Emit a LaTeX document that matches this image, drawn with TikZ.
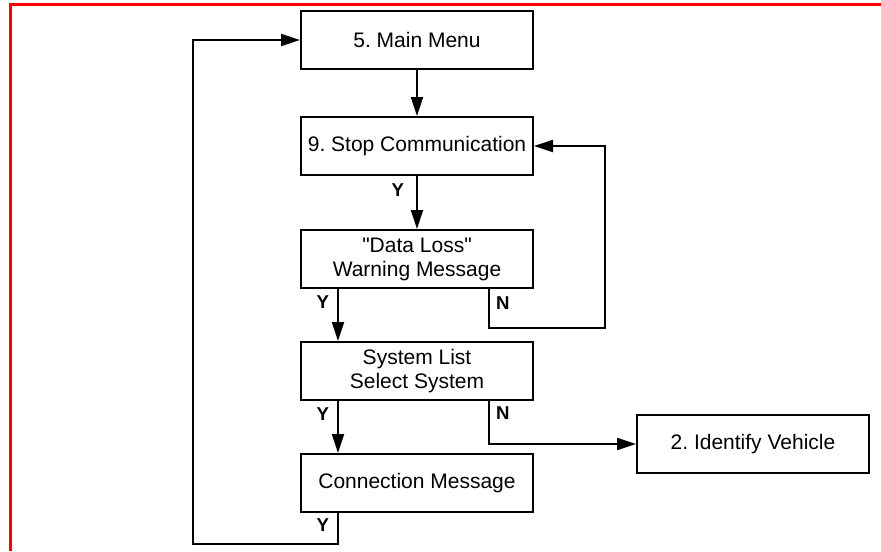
\documentclass[tikz,border=0pt]{standalone}
\usepackage{fontspec}
\setmainfont{Liberation Sans}
\usepackage{tikz}
\usetikzlibrary{arrows.meta,calc,positioning}
\frenchspacing

\begin{document}
\begin{tikzpicture}[x=0.5pt,y=-0.5pt,
  box/.style={draw,line width=1pt,minimum width=116pt,minimum height=29pt,
    align=center,inner sep=2pt,font=\fontsize{10.5}{12}\selectfont},
  flow/.style={draw,line width=1pt,-{Triangle[length=9.5pt,width=6pt]}},
  yn/.style={font=\fontsize{9.3}{10}\selectfont\bfseries,inner sep=0pt}]
\useasboundingbox (0,0) rectangle (881,551);
% Frame
\draw[red,line width=1.3pt] (10.3,551) -- (10.3,4.7) -- (881,4.7);

% Boxes
\node[box] (menu) at (417,40) {5. Main Menu};
\node[box] (stop) at (417,146) {9. Stop Communication};
\node[box] (warn) at (417,259) {\textquotedbl Data Loss\textquotedbl\\Warning Message};
\node[box] (sys) at (417,371) {System List\\Select System};
\node[box] (conn) at (417,483) {Connection Message};
\node[box] (ident) at (753,444) {2. Identify Vehicle};

% Branch points
\coordinate (ybr) at (338,0);
\coordinate (nbr) at (489,0);
\coordinate (nloop) at (605,328);
\coordinate (back) at (193,544);

% Connectors
\draw[flow] (menu) -- (stop);
\draw[flow] (stop) -- node[yn,pos=.26,left=6pt]{Y} (warn);
\draw[flow] (warn.south -| ybr) -- node[yn,pos=.26,left=4pt]{Y} (sys.north -| ybr);
\draw[flow] (warn.south -| nbr) |- node[yn,pos=.18,right=3pt]{N} (nloop) |- (stop.east);
\draw[flow] (sys.south -| ybr) -- node[yn,pos=.26,left=4pt]{Y} (conn.north -| ybr);
\draw[flow] (sys.south -| nbr) |- node[yn,pos=.14,right=3pt]{N} (ident.west);
\draw[flow] (conn.south -| ybr) |- node[yn,pos=.2,left=4pt]{Y} (back) |- (menu.west);
\end{tikzpicture}
\end{document}
